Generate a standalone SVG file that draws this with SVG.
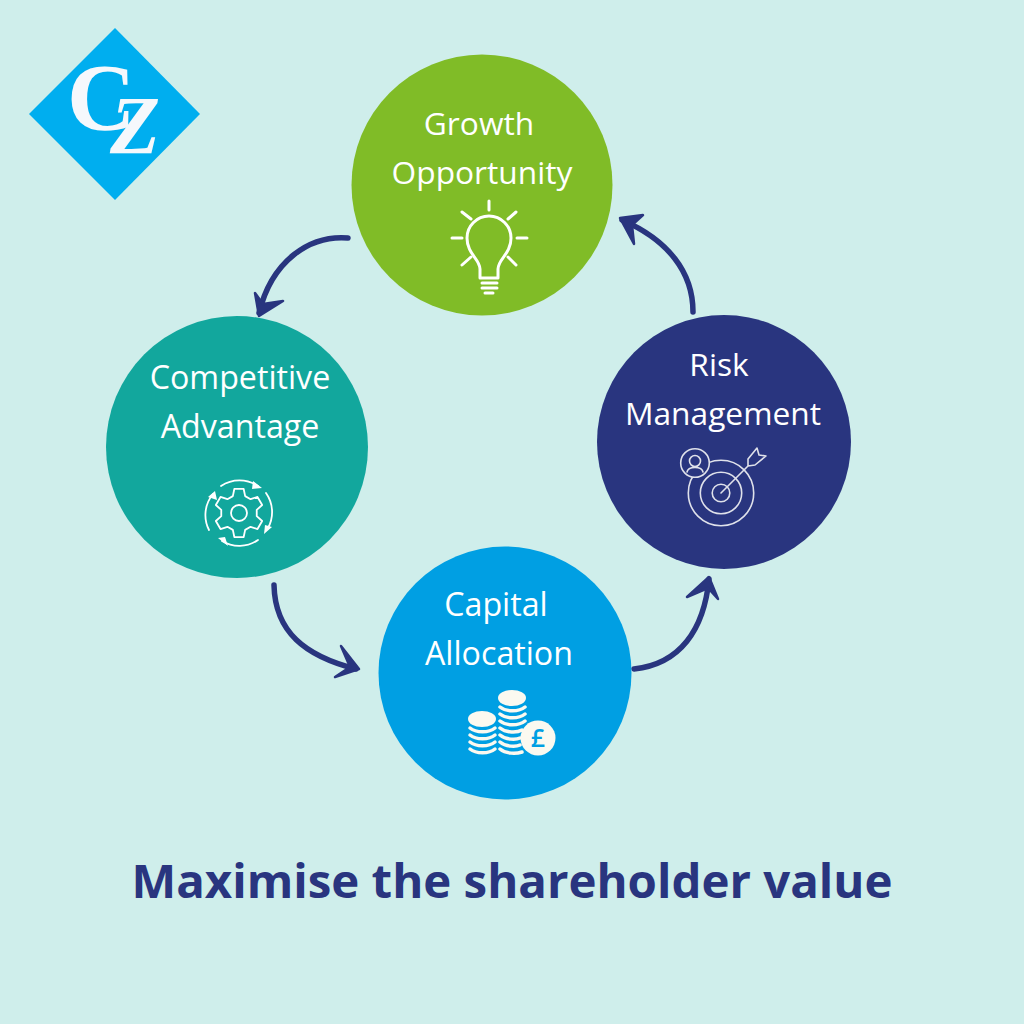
<svg xmlns="http://www.w3.org/2000/svg" width="1024" height="1024" viewBox="0 0 1024 1024">
<defs><style>
.l{font-family:"Open Sans","Noto Sans",sans-serif;font-size:31.7px;fill:#fff;text-anchor:middle}
.m{font-size:32.2px}
.c{fill:none;stroke:#29357f;stroke-width:5.5;stroke-linecap:round;stroke-linejoin:round}
.h{fill:#29357f;stroke:#29357f;stroke-width:2.5;stroke-linejoin:round}
.w{fill:none;stroke:#fff;stroke-linecap:round;stroke-linejoin:round}
.t{fill:none;stroke:#dfe1ea;stroke-width:1.6;stroke-linecap:round;stroke-linejoin:round}
.z{font-family:"Liberation Serif",serif;font-weight:bold;fill:#f5f8fc}
.coin{fill:#fbf9f0}
.rim{fill:none;stroke:#fbf9f0;stroke-width:3.5;stroke-linecap:round}
</style></defs>
<rect width="1024" height="1024" fill="#cfeeeb"/>
<g id="logo">
<polygon points="115,28 200,114 115,200 29,114" fill="#00aeef"/>
<text class="z" x="67" y="130" font-size="95">C<tspan x="110" y="153" font-size="82" font-style="italic">Z</tspan></text>
</g>
<g id="connectors">
<path class="c" d="M348,238C310,235 272,260 259,313"/><path class="h" d="M255,293L259,316L283,301L263,304Z"/>
<path class="c" d="M693,312C693,272 668,240 622,220"/><path class="h" d="M643,215L620,218L634,244L632,225Z"/>
<path class="c" d="M274,585C275,632 305,656 356,669"/><path class="h" d="M341,646L359,669L335,677L350,667Z"/>
<path class="c" d="M634,669C680,664 704,630 709,579"/><path class="h" d="M687,597L709,577L718,599L708,588Z"/>
</g>
<g id="growth">
<circle cx="482" cy="185" r="130.500" fill="#80bc27"/>
<text class="l" x="479" y="134.500">Growth</text>
<text class="l" x="482" y="184">Opportunity</text>
<g class="w" stroke-width="3">
<path d="M489,201V210M462,212L471,219M516,212L508,219M452,238H462M517,238H527M462,265L471,257M516,265L508,257"/>
<path d="M480,278V269C480,259 467,254 467,238A22,22 0 0 1 511,238C511,254 498,259 498,269V278Z"/>
<path d="M482,283H497M482,288H497M485,293H493"/>
</g>
</g>
<g id="advantage">
<circle cx="237" cy="447" r="131" fill="#12a79d"/>
<text class="l m" x="240" y="389">Competitive</text>
<text class="l m" x="240" y="438">Advantage</text>
<g class="w" stroke-width="1.800">
<circle cx="239" cy="513" r="8"/>
<polygon transform="translate(239,513)" points="-6.16,-16.9 -4.67,-24.05 4.67,-24.05 6.16,-16.9 11.57,-13.79 18.49,-16.07 23.17,-7.98 17.73,-3.13 17.73,3.13 23.17,7.98 18.49,16.07 11.57,13.79 6.16,16.9 4.67,24.05 -4.67,24.05 -6.16,16.9 -11.57,13.79 -18.49,16.07 -23.17,7.98 -17.73,3.13 -17.73,-3.13 -23.17,-7.98 -18.49,-16.07 -11.57,-13.79"/>
<path d="M221,486A33,33 0 0 1 258,486M266,493A33,33 0 0 1 268,528M258,540A33,33 0 0 1 222,541M209,530A33,33 0 0 1 213,494"/>
</g>
<path d="M262,488L253,481L252,489ZM264,534L272,527L265,525ZM218,538L228,546L225,537ZM215,491L208,497L217,500Z" fill="#fff"/>
</g>
<g id="capital">
<circle cx="505" cy="673" r="126.500" fill="#009fe3"/>
<text class="l m" x="496" y="615.500">Capital</text>
<text class="l m" x="499" y="664.500">Allocation</text>
<ellipse class="coin" cx="482" cy="719" rx="14" ry="8"/>
<ellipse class="coin" cx="512" cy="698" rx="14" ry="8"/>
<path class="rim" d="M470,728C476,733 489,733 495,728M470,735C476,740 489,740 495,735M470,742C476,747 489,747 495,742M470,749C476,754 489,754 495,749"/>
<path class="rim" d="M500,707C506,712 519,712 525,707M500,714C506,719 519,719 525,714M500,721C506,726 519,726 525,721M500,728C506,733 517,733 522,730M500,735C506,740 516,740 520,738M500,742C506,747 516,747 520,745M500,749C506,754 516,754 522,752"/>
<circle class="coin" cx="538" cy="738" r="17.500"/>
<text x="538" y="747" font-family="'Open Sans',sans-serif" font-weight="600" font-size="25" fill="#009fe3" text-anchor="middle">£</text>
</g>
<g id="risk">
<circle cx="724" cy="442" r="127" fill="#29357f"/>
<text class="l" x="719" y="375.500">Risk</text>
<text class="l" x="723" y="424.500">Management</text>
<g class="t">
<circle cx="721" cy="493" r="32.700"/>
<circle cx="721" cy="493" r="20.700"/>
<circle cx="721" cy="493" r="8.800"/>
<path d="M721,493L748,466M748,466L748,459L757,448L759,455L766,456L755,465Z"/>
<circle cx="695" cy="463" r="14.300" fill="#29357f"/>
<circle cx="695" cy="461" r="5.500"/>
<path d="M687,472C688,466 702,466 703,472"/>
</g>
</g>
<text id="title" x="512" y="898" font-family="'Open Sans','Noto Sans',sans-serif" font-weight="700" font-size="47.400" fill="#29357f" text-anchor="middle">Maximise the shareholder value</text>
</svg>
